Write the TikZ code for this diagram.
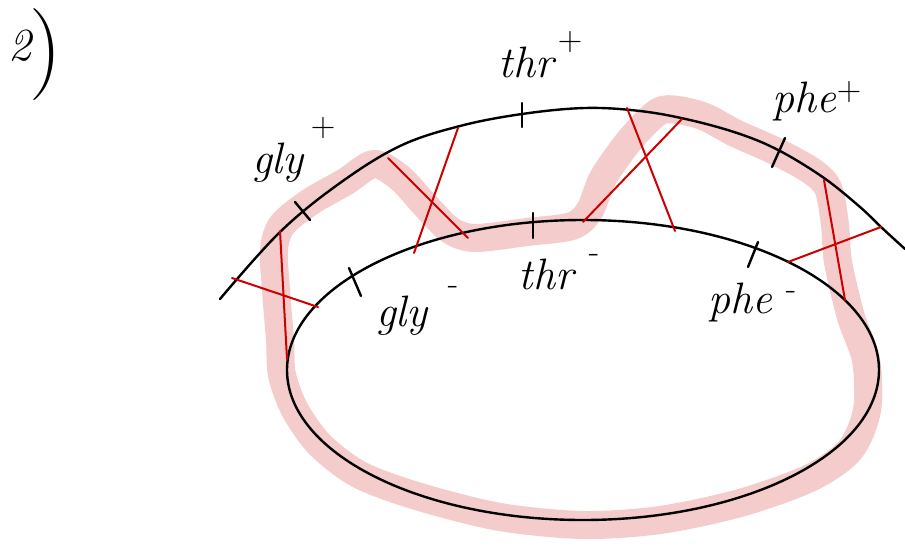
\documentclass[tikz,border=0pt]{standalone}
\usetikzlibrary{calc}
\definecolor{bandpink}{RGB}{244,204,204}
\definecolor{redc}{RGB}{204,0,0}
\begin{document}
\begin{tikzpicture}[x=1pt,y=-1pt,line cap=round,line join=round]
\tikzset{
  band/.style={draw=bandpink,line width=28pt},
  arcline/.style={draw=black,line width=2.4pt},
  redline/.style={draw=redc,line width=2pt},
  tickline/.style={draw=black,line width=2.4pt},
  lbl/.style={font=\fontsize{44}{46}\selectfont\itshape,inner sep=0pt},
  sup/.style={font=\fontsize{34}{36}\selectfont,inner sep=0pt}
}
\useasboundingbox (0,0) rectangle (905,546);
% pink band
\draw[band] plot[smooth cycle,tension=0.5] coordinates {
 (280,340) (276,290) (274,250) (282,225) (310,202) (345,182) (374,164)
 (400,178) (425,205) (450,230) (475,238) (527,232) (572,226) (590,210)
 (603,178) (630,140) (658,112) (678,110) (705,117) (735,133) (773,150)
 (810,170) (828,188) (835,225) (838,262) (851,317) (866,360) (867,410)
 (850,450) (810,478) (740,503) (660,520) (583,525) (500,517) (420,497)
 (360,475) (320,445) (295,410) (282,375)};
% outer arc
\draw[arcline] plot[smooth,tension=0.6] coordinates {
 (220,299) (280,232) (340,183) (400,146) (460,126) (522,114) (585,108)
 (640,111) (690,120) (740,134) (780,151) (824,178) (860,207) (881,227) (905,249)};
% inner ellipse
\node[draw=none,inner sep=0pt,minimum size=0pt] (ce) at (583,370) {};
\draw[arcline] (ce) ellipse [x radius=296pt,y radius=150pt];
% ticks
\coordinate (t1a) at (295,202); \coordinate (t1b) at (310,220);
\coordinate (t2a) at (522,103); \coordinate (t2b) at (522,127);
\coordinate (t3a) at (785,138); \coordinate (t3b) at (772,167);
\coordinate (t4a) at (349,268); \coordinate (t4b) at (361,296);
\coordinate (t5a) at (533,213); \coordinate (t5b) at (533,238);
\coordinate (t6a) at (758,242); \coordinate (t6b) at (748,267);
\foreach \t in {1,...,6} \draw[tickline] (t\t a) -- (t\t b);
% red crosses
\coordinate (r1a) at (232,278); \coordinate (r1b) at (318,307);
\coordinate (r2a) at (280,231); \coordinate (r2b) at (287,359);
\coordinate (r3a) at (388,158); \coordinate (r3b) at (468,238);
\coordinate (r4a) at (458,128); \coordinate (r4b) at (414,253);
\coordinate (r5a) at (627,108); \coordinate (r5b) at (675,231);
\coordinate (r6a) at (682,119); \coordinate (r6b) at (583,222);
\coordinate (r7a) at (788,262); \coordinate (r7b) at (881,227);
\coordinate (r8a) at (824,180); \coordinate (r8b) at (845,300);
\foreach \r in {1,...,8} \draw[redline] (r\r a) -- (r\r b);
% labels
\node[lbl] (gp) at (278,163) {gly};
\node[sup] (gps) at (323,128) {+};
\node[lbl] (tp) at (526,62) {thr};
\node[sup] (tps) at (570,42) {+};
\node[lbl] (pp) at (804,101) {phe};
\node[sup] (pps) at (849,92) {+};
\node[lbl] (gm) at (402,316) {gly};
\node[sup] (gms) at (453,290) {-};
\node[lbl] (tm) at (546,274) {thr};
\node[sup] (tms) at (594,258) {-};
\node[lbl] (pm) at (740,302) {phe};
\node[sup] (pms) at (791,295) {-};
% 2)
\node[lbl,font=\fontsize{46}{48}\selectfont\itshape] (two) at (20,46) {2};
\node[inner sep=0pt,font=\fontsize{92}{92}\selectfont] (par) at (46,55) {)};
\end{tikzpicture}
\end{document}
